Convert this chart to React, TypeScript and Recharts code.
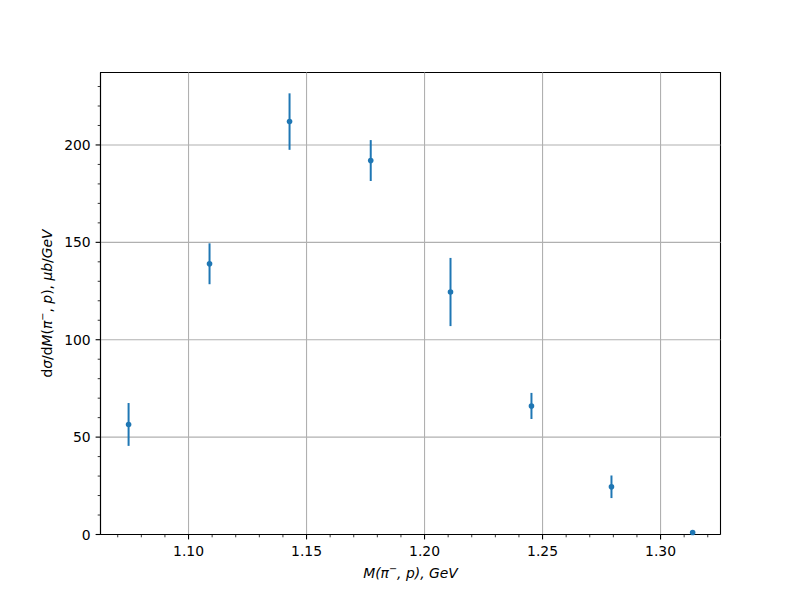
import {
  ScatterChart,
  Scatter,
  XAxis,
  YAxis,
  ErrorBar,
  ReferenceLine,
  ReferenceArea,
} from 'recharts';

// invariant mass bins (GeV), cross sections (µb/GeV) and their errors
const masses = [1.0746, 1.1089, 1.1428, 1.1772, 1.211, 1.2453, 1.2792, 1.3136];
const crossSections = [56.5, 139, 212, 192, 124.5, 66, 24.5, 1];
const errors = [11, 10.5, 14.5, 10.5, 17.5, 6.7, 5.8, 0.8];

const xMajor = [1.1, 1.15, 1.2, 1.25, 1.3];
const xMinor = [1.07, 1.08, 1.09, 1.1, 1.11, 1.12, 1.13, 1.14, 1.15, 1.16, 1.17, 1.18, 1.19, 1.2, 1.21, 1.22, 1.23, 1.24, 1.25, 1.26, 1.27, 1.28, 1.29, 1.3, 1.31, 1.32];
const yMajor = [0, 50, 100, 150, 200];
const yMinor = [0, 10, 20, 30, 40, 50, 60, 70, 80, 90, 100, 110, 120, 130, 140, 150, 160, 170, 180, 190, 200, 210, 220, 230];

const X_DOMAIN: [number, number] = [1.0627, 1.3254];
const Y_DOMAIN: [number, number] = [0, 237.2];

const FONT = '"DejaVu Sans", sans-serif';
const FS = 13.9;
const BLUE = '#1f77b4';

const data = masses.map((m, i) => ({ m, v: crossSections[i], err: errors[i] }));

const isMajor = (list: number[], v: number) => list.some((t) => Math.abs(t - v) < 1e-6);

function XTick({ x, y, payload }: any) {
  const v = payload.value as number;
  const major = isMajor(xMajor, v);
  return (
    <g>
      <line x1={x} y1={y} x2={x} y2={y + (major ? 4.9 : 2.8)} stroke="#000" strokeWidth={major ? 1.1 : 0.8} />
      {major && (
        <text x={x} y={y + 21} textAnchor="middle" fontFamily={FONT} fontSize={FS} fill="#000">
          {v.toFixed(2)}
        </text>
      )}
    </g>
  );
}

function YTick({ x, y, payload }: any) {
  const v = payload.value as number;
  const major = isMajor(yMajor, v);
  return (
    <g>
      <line x1={x} y1={y} x2={x - (major ? 4.9 : 2.8)} y2={y} stroke="#000" strokeWidth={major ? 1.1 : 0.8} />
      {major && (
        <text x={x - 9.8} y={y + 5} textAnchor="end" fontFamily={FONT} fontSize={FS} fill="#000">
          {String(v)}
        </text>
      )}
    </g>
  );
}

function XLabel({ viewBox }: any) {
  const cx = viewBox.x + viewBox.width / 2;
  return (
    <text x={cx} y={viewBox.y + 43} textAnchor="middle" fontFamily={FONT} fontSize={FS} fill="#000" fontStyle="italic">
      M(π
      <tspan fontSize={FS * 0.7} dy={-6}>−</tspan>
      <tspan dy={6}>, p), GeV</tspan>
    </text>
  );
}

function YLabel({ viewBox }: any) {
  const cy = viewBox.y + viewBox.height / 2;
  const cx = 47;
  return (
    <text
      x={cx}
      y={cy}
      dy="0.35em"
      textAnchor="middle"
      transform={`rotate(-90 ${cx} ${cy})`}
      fontFamily={FONT}
      fontSize={FS}
      fill="#000"
    >
      d<tspan fontStyle="italic">σ</tspan>/d<tspan fontStyle="italic">M</tspan>(<tspan fontStyle="italic">π</tspan>
      <tspan fontSize={FS * 0.7} dy={-6}>−</tspan>
      <tspan dy={6}>, </tspan>
      <tspan fontStyle="italic">p</tspan>), <tspan fontStyle="italic">μb</tspan>/<tspan fontStyle="italic">GeV</tspan>
    </text>
  );
}

export default function App() {
  return (
    <div style={{ position: 'absolute', left: 0, top: 0, width: 800, height: 600, background: '#fff' }}>
      <ScatterChart width={800} height={600} margin={{ top: 72.5, right: 79.5, bottom: 0, left: 0 }}>
        <XAxis
          dataKey="m"
          type="number"
          domain={X_DOMAIN}
          ticks={xMinor}
          interval={0}
          tickSize={0}
          tickMargin={0}
          tickLine={false}
          tick={<XTick />}
          axisLine={{ stroke: '#000', strokeWidth: 1.1 }}
          height={65.5}
          label={{ content: <XLabel /> }}
        />
        <YAxis
          dataKey="v"
          type="number"
          domain={Y_DOMAIN}
          ticks={yMinor}
          interval={0}
          tickSize={0}
          tickMargin={0}
          tickLine={false}
          tick={<YTick />}
          axisLine={{ stroke: '#000', strokeWidth: 1.1 }}
          width={100.5}
          label={{ content: <YLabel /> }}
        />
        {xMajor.map((t) => (
          <ReferenceLine key={`gx${t}`} x={t} stroke="#b0b0b0" strokeWidth={1.1} />
        ))}
        {yMajor.map((t) => (
          <ReferenceLine key={`gy${t}`} y={t} stroke="#b0b0b0" strokeWidth={1.1} />
        ))}
        <ReferenceArea
          x1={X_DOMAIN[0]}
          x2={X_DOMAIN[1]}
          y1={Y_DOMAIN[0]}
          y2={Y_DOMAIN[1]}
          fill="none"
          fillOpacity={0}
          stroke="#000"
          strokeWidth={1.1}
          ifOverflow="visible"
        />
        <Scatter
          data={data}
          isAnimationActive={false}
          shape={(p: any) => <circle cx={p.cx} cy={p.cy} r={2.8} fill={BLUE} />}
        >
          <ErrorBar dataKey="err" direction="y" width={0} stroke={BLUE} strokeWidth={2} isAnimationActive={false} />
        </Scatter>
      </ScatterChart>
    </div>
  );
}
